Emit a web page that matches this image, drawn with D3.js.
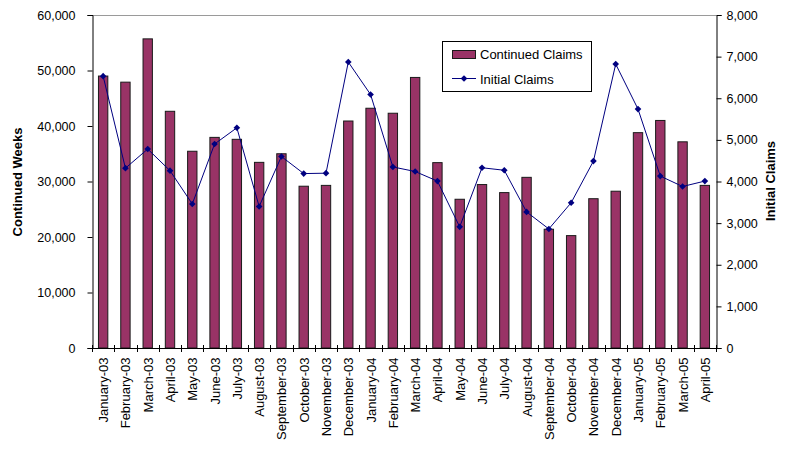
<!DOCTYPE html>
<html>
<head>
<meta charset="utf-8">
<script src="https://cdn.jsdelivr.net/npm/d3@7"></script>
<style>
  html, body { margin: 0; padding: 0; background: #fff; }
  svg { display: block; font-family: "Liberation Sans", Arial, sans-serif; }
</style>
</head>
<body>
<svg id="chart" width="785" height="449"></svg>
<script>
// Monthly unemployment insurance claims, January 2003 – April 2005
const months = [
  "January-03", "February-03", "March-03", "April-03", "May-03", "June-03",
  "July-03", "August-03", "September-03", "October-03", "November-03", "December-03",
  "January-04", "February-04", "March-04", "April-04", "May-04", "June-04",
  "July-04", "August-04", "September-04", "October-04", "November-04", "December-04",
  "January-05", "February-05", "March-05", "April-05"
];

// Continued weeks claimed (left axis)
const continuedClaims = [
  49000, 47900, 55700, 42650, 35450, 37950,
  37600, 33450, 35000, 29150, 29300, 40900,
  43200, 42300, 48750, 33400, 26800, 29450,
  28000, 30750, 21400, 20250, 26900, 28250,
  38800, 41000, 37150, 29300
];

// Initial claims (right axis)
const initialClaims = [
  6530, 4320, 4780, 4260, 3460, 4900,
  5290, 3400, 4600, 4190, 4200, 6870,
  6090, 4350, 4240, 4010, 2910, 4330,
  4270, 3270, 2860, 3490, 4490, 6820,
  5740, 4130, 3880, 4010
];

const leftTicks = [0, 10000, 20000, 30000, 40000, 50000, 60000];
const rightTicks = [0, 1000, 2000, 3000, 4000, 5000, 6000, 7000, 8000];

const seriesNames = ["Continued Claims", "Initial Claims"];
const leftTitle = "Continued Weeks";
const rightTitle = "Initial Claims";

const barFill = "#993366";
const lineColor = "#000080";

const plot = { left: 92, right: 716, top: 15, bottom: 348 };
const svg = d3.select("#chart");
const fmt = d3.format(",");

const x = d3.scaleBand()
  .domain(months)
  .range([plot.left, plot.right])
  .paddingInner(0.58)
  .paddingOuter(0.29);

const yLeft = d3.scaleLinear().domain([0, 60000]).range([plot.bottom, plot.top]);
const yRight = d3.scaleLinear().domain([0, 8000]).range([plot.bottom, plot.top]);

// Top frame line
svg.append("line")
  .attr("x1", plot.left).attr("x2", plot.right)
  .attr("y1", plot.top + 0.5).attr("y2", plot.top + 0.5)
  .attr("stroke", "#9a9a9a").attr("stroke-width", 1);

// Bars
svg.append("g")
  .selectAll("rect")
  .data(months)
  .join("rect")
  .attr("x", d => x(d))
  .attr("y", (d, i) => yLeft(continuedClaims[i]))
  .attr("width", x.bandwidth())
  .attr("height", (d, i) => plot.bottom - yLeft(continuedClaims[i]))
  .attr("fill", barFill)
  .attr("stroke", "#1a1a1a")
  .attr("stroke-width", 1);

// Left axis
const leftAxis = svg.append("g")
  .attr("transform", `translate(${plot.left + 0.5},0)`)
  .call(d3.axisLeft(yLeft).tickValues(leftTicks).tickFormat(fmt).tickSize(5).tickPadding(12));
leftAxis.select(".domain").attr("stroke", "#000");
leftAxis.selectAll(".tick line").attr("stroke", "#000");
leftAxis.selectAll(".tick text")
  .attr("font-size", "12.5px").attr("fill", "#000")
  .attr("font-family", "Liberation Sans, Arial, sans-serif");

// Right axis
const rightAxis = svg.append("g")
  .attr("transform", `translate(${plot.right + 0.5},0)`)
  .call(d3.axisRight(yRight).tickValues(rightTicks).tickFormat(fmt).tickSize(5).tickPadding(5));
rightAxis.select(".domain").attr("stroke", "#000");
rightAxis.selectAll(".tick line").attr("stroke", "#000");
rightAxis.selectAll(".tick text")
  .attr("font-size", "12.5px").attr("fill", "#000")
  .attr("font-family", "Liberation Sans, Arial, sans-serif");

// Bottom axis: labels centred on bands, ticks on band boundaries crossing the axis
const bottomAxis = svg.append("g")
  .attr("transform", `translate(0,${plot.bottom + 0.5})`)
  .call(d3.axisBottom(x).tickSize(0).tickPadding(0));
bottomAxis.select(".domain").remove();
bottomAxis.selectAll(".tick text")
  .attr("font-size", "13px").attr("fill", "#000")
  .attr("font-family", "Liberation Sans, Arial, sans-serif")
  .attr("text-anchor", "end")
  .attr("dy", null)
  .attr("transform", "translate(5,9) rotate(-90)");

svg.append("line")
  .attr("x1", plot.left).attr("x2", plot.right + 1)
  .attr("y1", plot.bottom + 0.5).attr("y2", plot.bottom + 0.5)
  .attr("stroke", "#000");

const gapHalf = (x.step() - x.bandwidth()) / 2;
const boundaries = months.map(d => x(d) - gapHalf).concat([x(months[months.length - 1]) + x.bandwidth() + gapHalf]);
svg.append("g")
  .selectAll("line")
  .data(boundaries)
  .join("line")
  .attr("x1", d => Math.round(d) + 0.5).attr("x2", d => Math.round(d) + 0.5)
  .attr("y1", plot.bottom - 3).attr("y2", plot.bottom + 4)
  .attr("stroke", "#000");

// Initial claims line
const cx = d => x(d) + x.bandwidth() / 2;
const line = d3.line()
  .x(d => cx(d))
  .y((d, i) => yRight(initialClaims[i]));
svg.append("path")
  .datum(months)
  .attr("d", line)
  .attr("fill", "none")
  .attr("stroke", lineColor)
  .attr("stroke-width", 1);

const diamond = d3.symbol(d3.symbolSquare, 22);
svg.append("g")
  .selectAll("path")
  .data(months)
  .join("path")
  .attr("d", diamond)
  .attr("transform", (d, i) => `translate(${cx(d)},${yRight(initialClaims[i])}) rotate(45)`)
  .attr("fill", lineColor);

// Axis titles
svg.append("text")
  .attr("transform", "translate(22,182) rotate(-90)")
  .attr("text-anchor", "middle")
  .attr("font-size", "13px").attr("font-weight", "bold")
  .text(leftTitle);

svg.append("text")
  .attr("transform", "translate(775,181) rotate(-90)")
  .attr("text-anchor", "middle")
  .attr("font-size", "13px").attr("font-weight", "bold")
  .text(rightTitle);

// Legend
const legend = svg.append("g");
legend.append("rect")
  .attr("x", 442.5).attr("y", 41.5).attr("width", 149).attr("height", 50)
  .attr("fill", "#fff").attr("stroke", "#000");
legend.append("rect")
  .attr("x", 452.5).attr("y", 50.5).attr("width", 23).attr("height", 8)
  .attr("fill", barFill).attr("stroke", "#1a1a1a");
legend.append("text")
  .attr("x", 480).attr("y", 58.5)
  .attr("font-size", "13px")
  .text(seriesNames[0]);
legend.append("line")
  .attr("x1", 452).attr("x2", 476).attr("y1", 78.5).attr("y2", 78.5)
  .attr("stroke", lineColor);
legend.append("path")
  .attr("d", diamond)
  .attr("transform", "translate(464,78.5) rotate(45)")
  .attr("fill", lineColor);
legend.append("text")
  .attr("x", 480).attr("y", 83.5)
  .attr("font-size", "13px")
  .text(seriesNames[1]);
</script>
</body>
</html>
